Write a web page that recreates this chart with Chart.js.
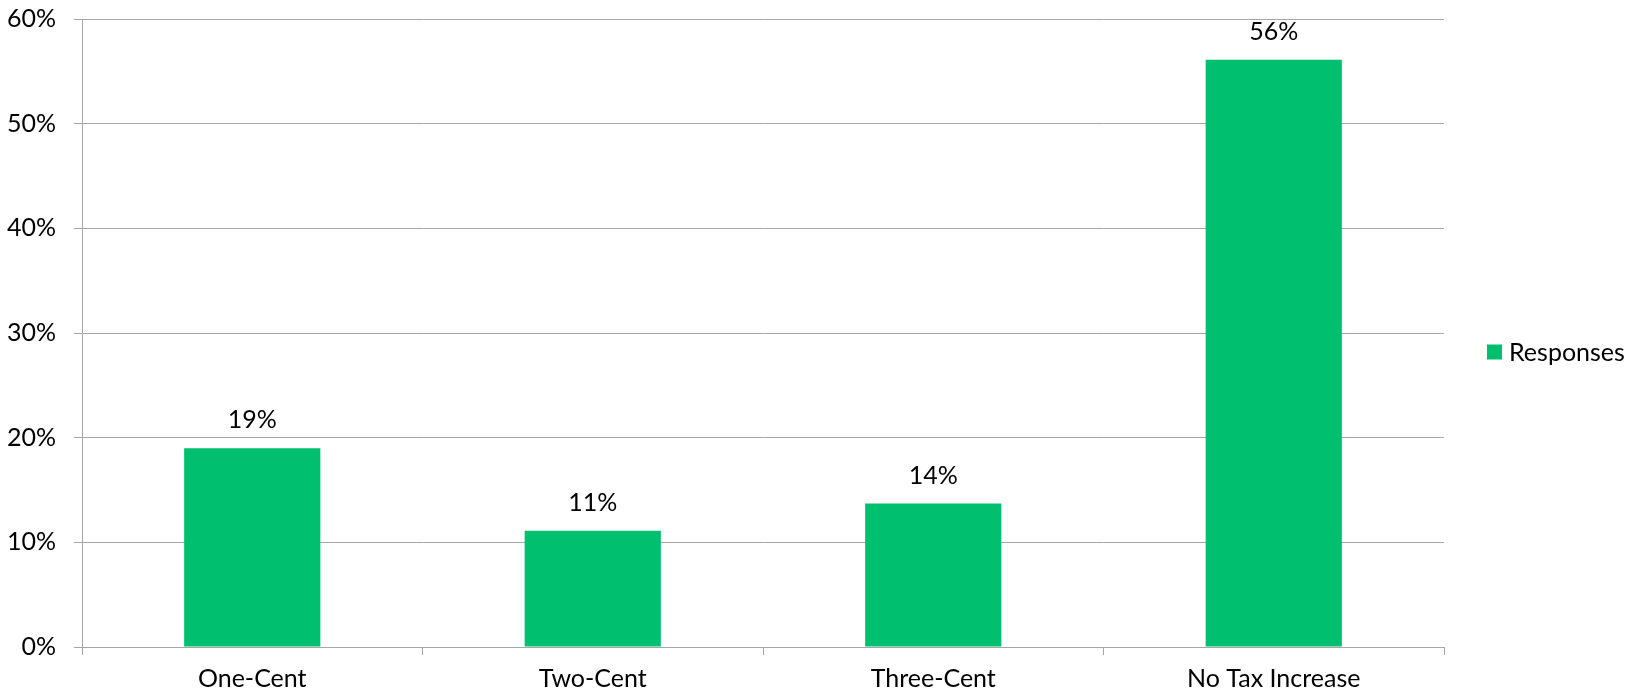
<!DOCTYPE html>
<html>
<head>
<meta charset="utf-8">
<script src="https://cdn.jsdelivr.net/npm/chart.js@4"></script>
<style>
    html, body { margin: 0; padding: 0; background: #fff; }
    #wrap { width: 1638px; height: 693px; }
</style>
</head>
<body>
<div id="wrap"><canvas id="chart"></canvas></div>
<script>
// Données du graphique
const categories = ['One-Cent', 'Two-Cent', 'Three-Cent', 'No Tax Increase'];
const responses = [19.0, 11.1, 13.7, 56.1];
const seriesName = 'Responses';
const yTicks = [0, 10, 20, 30, 40, 50, 60];

const FONT = 'Lato, "Open Sans", sans-serif';
const FONT_SIZE = 25;
const GREEN = '#00bf6f';
const GRID = '#a6a6a6';

// Étiquettes de valeur au-dessus des barres
const valueLabels = {
    id: 'valueLabels',
    afterDatasetsDraw(chart) {
        const ctx = chart.ctx;
        const meta = chart.getDatasetMeta(0);
        ctx.save();
        ctx.font = FONT_SIZE + 'px ' + FONT;
        ctx.fillStyle = '#000';
        ctx.textAlign = 'center';
        ctx.textBaseline = 'alphabetic';
        meta.data.forEach((bar, i) => {
            ctx.fillText(Math.round(responses[i]) + '%', bar.x, bar.y - 20);
        });
        ctx.restore();
    }
};

// Légende à droite, façon Excel
const sideLegend = {
    id: 'sideLegend',
    afterDraw(chart) {
        const ctx = chart.ctx;
        const ds = chart.data.datasets[0];
        const x = chart.chartArea.right + 43;
        const y = chart.height / 2 + 5;
        ctx.save();
        ctx.fillStyle = ds.backgroundColor;
        ctx.fillRect(x, y - 7, 15, 15);
        ctx.font = FONT_SIZE + 'px ' + FONT;
        ctx.fillStyle = '#000';
        ctx.textAlign = 'left';
        ctx.textBaseline = 'middle';
        ctx.fillText(ds.label, x + 22, y + 1);
        ctx.restore();
    }
};

new Chart(document.getElementById('chart'), {
    type: 'bar',
    data: {
        labels: categories,
        datasets: [{
            label: seriesName,
            data: responses,
            backgroundColor: GREEN,
            categoryPercentage: 1,
            barPercentage: 0.4
        }]
    },
    options: {
        responsive: true,
        maintainAspectRatio: false,
        animation: false,
        layout: { padding: { left: 0, right: 194, top: 19, bottom: 0 } },
        plugins: {
            legend: { display: false },
            tooltip: { enabled: false }
        },
        scales: {
            x: {
                afterFit(axis) {
                    axis.height = 46;
                    axis.paddingLeft = 0;
                    axis.paddingRight = 0;
                },
                grid: { offset: true, drawOnChartArea: false, tickLength: 8, color: GRID },
                border: { color: GRID },
                ticks: { color: '#000', padding: 9, font: { family: FONT, size: FONT_SIZE } }
            },
            y: {
                min: 0,
                max: 60,
                afterBuildTicks(axis) {
                    axis.ticks = yTicks.map(v => ({ value: v }));
                },
                afterFit(axis) {
                    axis.width = 82;
                    axis.paddingTop = 0;
                    axis.paddingBottom = 0;
                },
                grid: { tickLength: 8, color: GRID },
                border: { color: GRID },
                ticks: {
                    color: '#000',
                    padding: 18,
                    font: { family: FONT, size: FONT_SIZE },
                    callback: v => v + '%'
                }
            }
        }
    },
    plugins: [valueLabels, sideLegend]
});
</script>
</body>
</html>
